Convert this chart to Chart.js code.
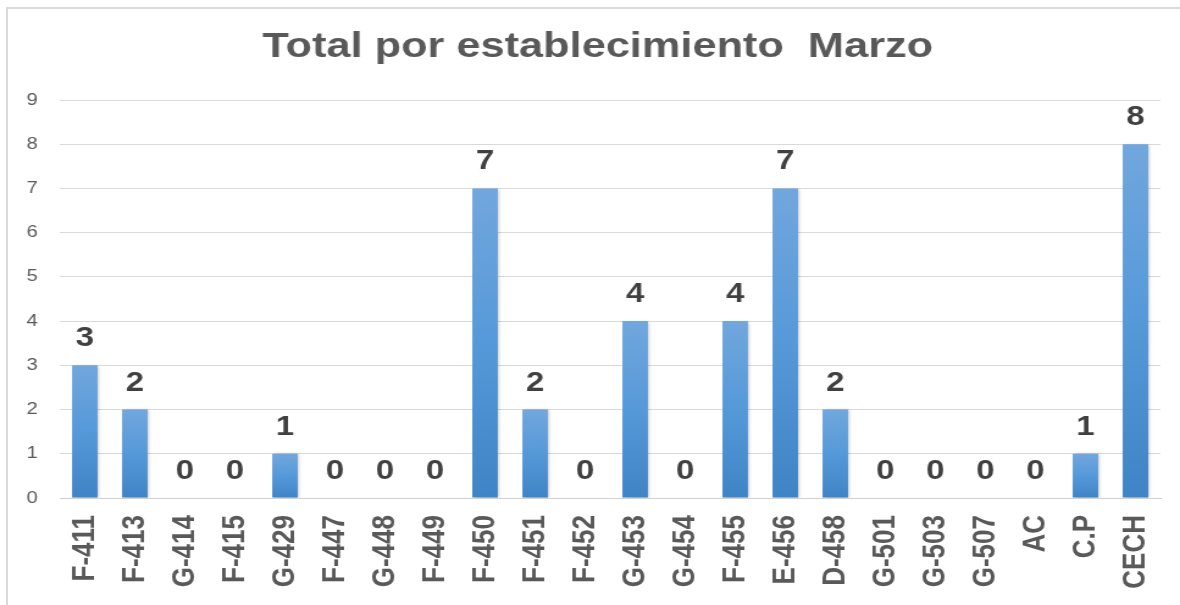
<!DOCTYPE html>
<html>
<head>
<meta charset="utf-8">
<script src="https://cdn.jsdelivr.net/npm/chart.js@4"></script>
<style>
  html, body { margin: 0; padding: 0; background: #ffffff; overflow: hidden; }
  #wrap { position: relative; width: 1180px; height: 605px; overflow: hidden; background: #fff; }
  #frame { position: absolute; left: 6px; top: 7px; width: 1300px; height: 800px;
           border-left: 2px solid #d9d9d9; border-top: 2px solid #d9d9d9; box-sizing: border-box; }
  #c { position: absolute; left: 0; top: 0; width: 1180px; height: 605px; }
</style>
</head>
<body>
<div id="wrap">
  <div id="frame"></div>
  <canvas id="c" width="967" height="605" style="width:1180px;height:605px;"></canvas>
</div>
<script>
const chartTitle = "Total por establecimiento  Marzo";
const categories = ["F-411","F-413","G-414","F-415","G-429","F-447","G-448","F-449","F-450","F-451","F-452","G-453","G-454","F-455","E-456","D-458","G-501","G-503","G-507","AC","C.P","CECH"];
const values = [3,2,0,0,1,0,0,0,7,2,0,4,0,4,7,2,0,0,0,0,1,8];
const yTicks = [0,1,2,3,4,5,6,7,8,9];

const FONT = "'Liberation Sans', Arial, sans-serif";

function barGradient(context) {
  const chart = context.chart;
  const area = chart.chartArea;
  if (!area) return '#5b9bd5';
  const y = chart.scales.y;
  const v = context.raw;
  const top = y.getPixelForValue(v);
  const bottom = y.getPixelForValue(0);
  if (!(bottom - top > 0.5)) return '#5b9bd5';
  const g = chart.ctx.createLinearGradient(0, top, 0, bottom);
  g.addColorStop(0, '#71a7dd');
  g.addColorStop(0.5, '#5699d9');
  g.addColorStop(1, '#3f84c6');
  return g;
}

const barDecor = {
  id: 'barDecor',
  beforeDatasetsDraw(chart) {
    const ctx = chart.ctx;
    ctx.save();
    ctx.shadowColor = 'rgba(0,0,0,0.28)';
    ctx.shadowBlur = 3;
    ctx.shadowOffsetX = 1.5;
    ctx.shadowOffsetY = 0.5;
  },
  afterDatasetsDraw(chart) {
    const ctx = chart.ctx;
    ctx.restore();
    const meta = chart.getDatasetMeta(0);
    ctx.save();
    ctx.font = "bold 27px " + FONT;
    ctx.fillStyle = '#404040';
    ctx.textAlign = 'center';
    ctx.textBaseline = 'alphabetic';
    meta.data.forEach((el, i) => {
      ctx.fillText(String(values[i]), el.x, el.y - 19);
    });
    ctx.restore();
  }
};

new Chart(document.getElementById('c'), {
  type: 'bar',
  data: {
    labels: categories,
    datasets: [{
      data: values,
      backgroundColor: barGradient,
      borderWidth: 0,
      categoryPercentage: 1.0,
      barPercentage: 0.51
    }]
  },
  options: {
    responsive: false,
    devicePixelRatio: 1,
    animation: false,
    events: [],
    layout: { padding: { left: 12.6, right: 0, top: 0, bottom: 0 } },
    plugins: {
      legend: { display: false },
      tooltip: { enabled: false },
      title: {
        display: true,
        text: chartTitle,
        color: '#595959',
        font: { family: FONT, size: 35.5, weight: 'bold', lineHeight: 1.2 },
        padding: { top: 26.4, bottom: 31 }
      }
    },
    scales: {
      x: {
        grid: { display: false, drawTicks: false },
        border: { display: true, color: '#d0d0d0', width: 1 },
        ticks: {
          color: '#595959',
          font: { family: FONT, size: 26, weight: 'bold' },
          minRotation: 90, maxRotation: 90,
          autoSkip: false,
          padding: 17
        },
        afterFit(scale) { scale.height = 107; scale.paddingLeft = 0; scale.paddingRight = 0; }
      },
      y: {
        min: 0, max: 9,
        grid: { color: '#d9d9d9', lineWidth: 1, drawTicks: false },
        border: { display: false },
        ticks: {
          color: '#595959',
          font: { family: FONT, size: 16.5 },
          padding: 18,
          stepSize: 1
        },
        afterBuildTicks(scale) { scale.ticks = yTicks.map(v => ({ value: v })); },
        afterFit(scale) { scale.width = 36.4; }
      },
      yRight: {
        position: 'right',
        display: true,
        grid: { display: false, drawTicks: false },
        border: { display: false },
        ticks: { display: false },
        afterFit(scale) { scale.width = 16; }
      }
    }
  },
  plugins: [barDecor]
});
</script>
</body>
</html>
